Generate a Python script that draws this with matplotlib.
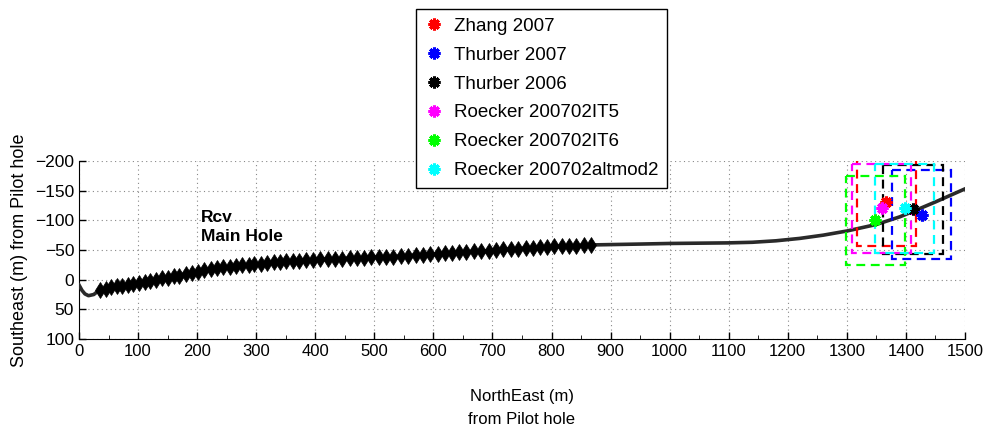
import matplotlib
matplotlib.use("Agg")
import matplotlib.pyplot as plt
from matplotlib.patches import Rectangle

plt.rcParams["font.family"] = ["Liberation Sans", "DejaVu Sans"]
plt.rcParams["font.size"] = 12

# Main hole trajectory (NorthEast, Southeast) from pilot hole, metres
traj_ne = [0, 5, 10, 16, 25, 35, 100, 168, 239, 300, 384, 442, 543, 645,
           756, 866, 950, 1000, 1050, 1100, 1140, 1180, 1220, 1260, 1300,
           1350, 1390, 1412, 1450, 1500]
traj_se = [9, 18, 24, 27, 25, 17, 6, -7, -20, -26, -33, -35.5, -39.5, -46,
           -53, -58.5, -60, -61, -61.5, -62, -63, -65.5, -69.5, -75, -82,
           -93, -106, -115, -131, -153]

# Receiver levels along the main hole
rcv_ne = [35, 45, 54, 64, 73, 83, 92, 102, 112, 121, 131, 141, 150, 160, 170,
          181, 191, 202, 212, 223, 234, 244, 255, 265, 276, 287, 297, 308,
          319, 330, 340, 351, 362, 373, 384, 396, 408, 421, 433, 446, 458,
          470, 483, 495, 508, 520, 532, 545, 557, 570, 582, 594, 607, 619,
          632, 644, 656, 669, 681, 694, 706, 718, 731, 743, 756, 768, 780,
          793, 805, 818, 830, 842, 855, 866]
rcv_se = [17, 15, 13, 11.5, 10, 8.5, 7, 5.5, 3.5, 1.5, 0, -2, -3.5, -5.5, -7,
          -9.5, -11.5, -13.5, -15.5, -17.5, -19, -20.5, -22, -23, -24, -25,
          -26, -27, -28, -29, -30, -31, -31.5, -32, -33, -33.5, -34, -34.5,
          -35, -35.5, -36, -36.5, -37, -37.5, -38, -38.5, -39, -39.5, -40.5,
          -41, -42, -43, -44, -45, -45.5, -46, -47, -47.5, -48.5, -49, -50,
          -51, -51.5, -52.5, -53, -54, -55, -55.5, -56, -56.5, -57, -57.5,
          -58, -58.5]

# Event locations from each velocity model
models = ["Zhang 2007", "Thurber 2007", "Thurber 2006",
          "Roecker 200702IT5", "Roecker 200702IT6", "Roecker 200702altmod2"]
ev_ne = [1367, 1427, 1412, 1359, 1348, 1398]
ev_se = [-131, -109, -119, -120, -100, -120]
colors = ["#ff0000", "#0000ff", "#000000", "#ff00ff", "#00ff00", "#00ffff"]

# location uncertainty (half-widths, m)
err_ne = 50
err_se = 75

fig = plt.figure(figsize=(9.89, 4.33), dpi=100)
ax = fig.add_axes([0.0799, 0.2171, 0.8958, 0.4111])

ax.plot(traj_ne, traj_se, color="#2a2a2a", lw=2.6, zorder=3)
ax.plot(rcv_ne, rcv_se, ls="none", marker="d", ms=8.5, color="black",
        mec="black", mew=0.5, zorder=4)

handles = []
for ne, se, c, name in zip(ev_ne, ev_se, colors, models):
    ax.add_patch(Rectangle((ne - err_ne, se - err_se), 2 * err_ne, 2 * err_se,
                           fill=False, edgecolor=c, lw=1.6, ls=(0, (4, 2.5)),
                           zorder=5))
    h, = ax.plot(ne, se, ls="none", marker=(8, 2, 0), ms=8.5, mew=2.2,
                 color=c, zorder=6, label=name)
    handles.append(h)

ax.text(207, -117, "Rcv\nMain Hole", fontsize=12.5, fontweight="bold",
        va="top", ha="left", linespacing=1.3, zorder=7)

ax.set_xlim(0, 1500)
ax.set_ylim(100, -200)
ax.set_xticks(range(0, 1501, 100))
ax.set_xticks(range(0, 1501, 50), minor=True)
ax.set_yticks(range(-200, 101, 50))
ax.tick_params(direction="in", length=5, width=1, labelsize=12)
ax.tick_params(axis="y", labelsize=12.5)
ax.tick_params(which="minor", direction="in", length=3)
ax.grid(True, ls=(0, (1, 3)), color="#888888", lw=0.8)
ax.spines["top"].set_visible(False)
ax.spines["right"].set_visible(False)
ax.set_axisbelow(True)

ax.set_xlabel("NorthEast (m)\nfrom Pilot hole", fontsize=12, labelpad=22,
              linespacing=1.6)
ax.set_ylabel("Southeast (m) from Pilot hole", fontsize=13, labelpad=5)

leg = ax.legend(handles=handles, loc="upper left",
                bbox_to_anchor=(0.4206, 0.979), bbox_transform=fig.transFigure,
                borderaxespad=0, fontsize=13.5, frameon=True, fancybox=False,
                framealpha=1, edgecolor="black", handlelength=1.0,
                handletextpad=0.6, labelspacing=0.63, borderpad=0.45,
                numpoints=1)
leg.get_frame().set_linewidth(1.0)
leg.set_zorder(10)

fig.savefig("out.png", dpi=100)
